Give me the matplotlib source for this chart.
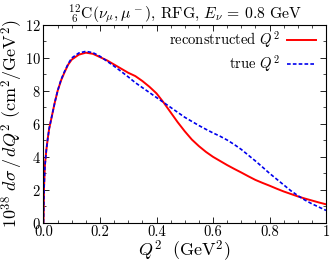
import matplotlib
matplotlib.use("Agg")
import matplotlib.pyplot as plt
from matplotlib.ticker import MultipleLocator, FixedLocator, FixedFormatter

plt.rcParams['font.family'] = 'serif'
plt.rcParams['font.serif'] = ['cmr10', 'DejaVu Serif']
plt.rcParams['mathtext.fontset'] = 'cm'
plt.rcParams['axes.formatter.use_mathtext'] = True

q2 = [0, 0.002, 0.005, 0.01, 0.015, 0.02, 0.03, 0.04, 0.05, 0.0625, 0.075, 0.0875,
      0.1, 0.125, 0.15, 0.175, 0.2, 0.225, 0.25, 0.275, 0.3, 0.325, 0.35, 0.375,
      0.4, 0.425, 0.45, 0.475, 0.5, 0.525, 0.55, 0.575, 0.6, 0.625, 0.65, 0.675,
      0.7, 0.725, 0.75, 0.775, 0.8, 0.825, 0.85, 0.875, 0.9, 0.925, 0.95, 0.975, 1.0]
reco = [0, 2.2, 3.5, 4.4, 5.1, 5.7, 6.5, 7.3, 8.0, 8.65, 9.15, 9.6,
        9.9, 10.2, 10.32, 10.25, 10.05, 9.85, 9.6, 9.35, 9.1, 8.9, 8.6, 8.25,
        7.85, 7.3, 6.7, 6.1, 5.55, 5.05, 4.65, 4.3, 4.0, 3.75, 3.5, 3.27,
        3.05, 2.82, 2.6, 2.42, 2.25, 2.07, 1.9, 1.75, 1.6, 1.47, 1.35, 1.23, 1.12]
true = [0, 2.1, 3.4, 4.4, 5.1, 5.7, 6.5, 7.3, 8.0, 8.7, 9.2, 9.65,
        10.0, 10.3, 10.4, 10.32, 10.1, 9.8, 9.5, 9.18, 8.85, 8.5, 8.2, 7.9,
        7.6, 7.3, 7.0, 6.7, 6.4, 6.15, 5.9, 5.67, 5.45, 5.25, 5.02, 4.75,
        4.45, 4.1, 3.75, 3.38, 3.0, 2.65, 2.3, 1.95, 1.65, 1.38, 1.15, 0.95, 0.75]

xticks = [0, 0.2, 0.4, 0.6, 0.8, 1.0]
xticklabels = ['0.0', '0.2', '0.4', '0.6', '0.8', '1']
yticks = [0, 2, 4, 6, 8, 10, 12]

fig = plt.figure(figsize=(3.32, 2.63), dpi=100)
ax = fig.add_axes([0.131, 0.153, 0.851, 0.752])

ax.plot(q2, reco, color='#ff0000', lw=1.4, label=r'reconstructed $Q^2$')
ax.plot(q2, true, color='#0000ee', lw=1.2, dashes=(2.2, 1.3), label=r'true $Q^2$')

ax.set_xlim(0, 1)
ax.set_ylim(0, 12)
ax.xaxis.set_major_locator(FixedLocator(xticks))
ax.xaxis.set_major_formatter(FixedFormatter(xticklabels))
ax.xaxis.set_minor_locator(MultipleLocator(0.05))
ax.set_yticks(yticks)
ax.yaxis.set_minor_locator(MultipleLocator(1))
ax.tick_params(which='both', direction='in', top=True, right=True, labelsize=10.5)
ax.tick_params(axis='x', pad=2)
ax.tick_params(axis='y', pad=2)
ax.tick_params(which='major', length=4, width=0.6)
ax.tick_params(which='minor', length=2, width=0.5)
for s in ax.spines.values():
    s.set_linewidth(0.8)

ax.set_xlabel(r'$Q^2\ \ (\mathrm{GeV}^2)$', fontsize=13, labelpad=0)
ax.set_ylabel(r'$10^{38}\ d\sigma\,/\,dQ^2\ (\mathrm{cm}^2/\mathrm{GeV}^2)$',
              fontsize=13, labelpad=0)
ax.set_title(r'$^{12}_{\ 6}\mathrm{C}(\nu_\mu,\mu^-)$, RFG, $E_\nu\,=\,0.8$ GeV',
             fontsize=11.3, pad=3)

ax.legend(loc='upper right', bbox_to_anchor=(1.0, 1.03), frameon=False,
          markerfirst=False, fontsize=10.5, handlelength=2.0, handletextpad=0.5,
          labelspacing=0.2, borderaxespad=0.3)

fig.savefig('out.png', dpi=100)
